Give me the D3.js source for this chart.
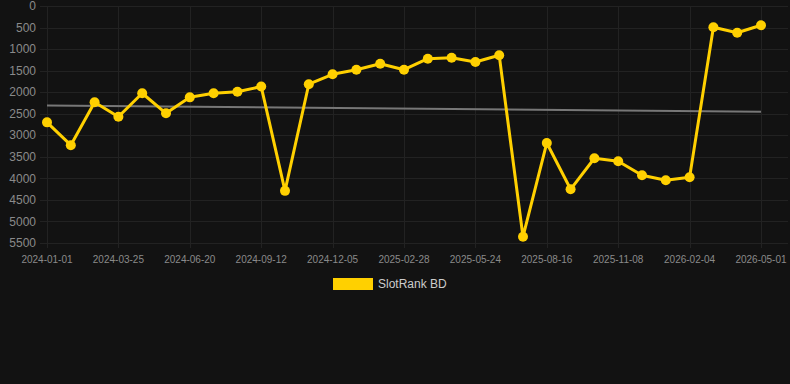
<!DOCTYPE html>
<html><head><meta charset="utf-8">
<script src="https://cdn.jsdelivr.net/npm/d3@7"></script>
<style>html,body{margin:0;padding:0;background:#121212;}svg{display:block;}</style>
</head><body>
<svg id="c" width="790" height="384"></svg>
<script>
const dates = ["2024-01-01","2024-01-29","2024-02-26","2024-03-25","2024-04-22","2024-05-21","2024-06-20","2024-07-18","2024-08-15","2024-09-12","2024-10-10","2024-11-07","2024-12-05","2025-01-02","2025-01-31","2025-02-28","2025-03-28","2025-04-26","2025-05-24","2025-06-21","2025-07-19","2025-08-16","2025-09-13","2025-10-11","2025-11-08","2025-12-08","2026-01-06","2026-02-04","2026-03-04","2026-04-02","2026-05-01"];
const ranks = [2700,3230,2235,2570,2025,2490,2120,2025,1990,1870,4290,1815,1585,1478,1339,1478,1223,1200,1300,1144,5354,3179,4254,3534,3604,3929,4045,3975,494,620,448];
const trend = [2310,2455];
const xTickLabels = ["2024-01-01","2024-03-25","2024-06-20","2024-09-12","2024-12-05","2025-02-28","2025-05-24","2025-08-16","2025-11-08","2026-02-04","2026-05-01"];
const yTicks = [0,500,1000,1500,2000,2500,3000,3500,4000,4500,5000,5500];
const seriesName = "SlotRank BD";

const svg = d3.select("#c");
const data = dates.map((d,i)=>({date:d, v:ranks[i]}));
const x = d3.scalePoint().domain(dates).range([47,761]);
const y = d3.scaleLinear().domain([0,5500]).range([6,243]);
const gridLeft = 40, gridRight = 788;

svg.append("g").selectAll("line").data(yTicks).join("line")
  .attr("x1",gridLeft).attr("x2",gridRight)
  .attr("y1",d=>Math.round(y(d))+0.5).attr("y2",d=>Math.round(y(d))+0.5)
  .attr("stroke","#222").attr("stroke-width",1);
svg.append("g").selectAll("line").data(xTickLabels).join("line")
  .attr("x1",d=>Math.round(x(d))+0.5).attr("x2",d=>Math.round(x(d))+0.5)
  .attr("y1",6).attr("y2",248)
  .attr("stroke","#222").attr("stroke-width",1);

svg.append("g").selectAll("text").data(yTicks).join("text")
  .attr("x",36).attr("y",d=>y(d)).attr("dy","0.35em")
  .attr("text-anchor","end").attr("fill","#8a8a8a")
  .attr("font-family","Liberation Sans, Arial, sans-serif").attr("font-size",12)
  .text(d=>d);
svg.append("g").selectAll("text").data(xTickLabels).join("text")
  .attr("x",d=>x(d)).attr("y",259).attr("dy","0.35em")
  .attr("text-anchor","middle").attr("fill","#8a8a8a")
  .attr("font-family","Liberation Sans, Arial, sans-serif").attr("font-size",10)
  .text(d=>d);

svg.append("line")
  .attr("x1",x(dates[0])).attr("x2",x(dates[dates.length-1]))
  .attr("y1",y(trend[0])).attr("y2",y(trend[1]))
  .attr("stroke","#777").attr("stroke-width",2);

const line = d3.line().x(d=>x(d.date)).y(d=>y(d.v));
svg.append("path").datum(data).attr("d",line)
  .attr("fill","none").attr("stroke","#FFD000").attr("stroke-width",3)
  .attr("stroke-linejoin","round");
svg.append("g").selectAll("circle").data(data).join("circle")
  .attr("cx",d=>x(d.date)).attr("cy",d=>y(d.v)).attr("r",5)
  .attr("fill","#FFD000");

svg.append("rect").attr("x",333).attr("y",278).attr("width",40).attr("height",12).attr("fill","#FFD000");
svg.append("text").attr("x",378).attr("y",284).attr("dy","0.35em")
  .attr("fill","#cccccc").attr("font-family","Liberation Sans, Arial, sans-serif").attr("font-size",12)
  .text(seriesName);
</script>
</body></html>
